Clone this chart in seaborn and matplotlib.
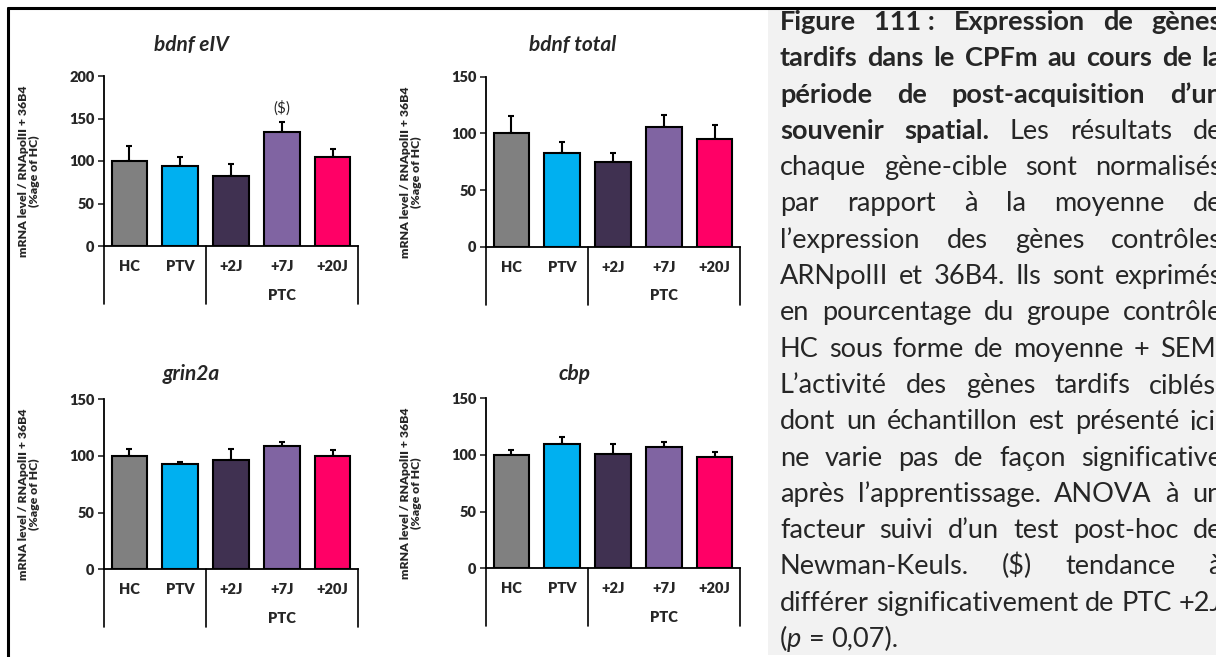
import matplotlib
matplotlib.use("Agg")
import matplotlib.pyplot as plt
import seaborn as sns
import numpy as np
import pandas as pd
from matplotlib.lines import Line2D
from matplotlib.patches import Rectangle

# ---------------- data ----------------
groups = ["HC", "PTV", "+2J", "+7J", "+20J"]
group_colors = ["#808080", "#00B0F0", "#403151", "#8064A2", "#FF0066"]

bdnf_eiv_mean = [100, 94, 82, 134, 105]
bdnf_eiv_sem = [18, 11, 14, 12, 9]
bdnf_total_mean = [100, 83, 75, 106, 95]
bdnf_total_sem = [15, 9, 8, 10, 12.5]
grin2a_mean = [100, 93, 96, 109, 100]
grin2a_sem = [6, 2, 10, 3.5, 5]
cbp_mean = [100, 110, 101, 107, 98]
cbp_sem = [4.5, 5.5, 9, 4, 4.5]

gene_titles = ["bdnf eIV", "bdnf total", "grin2a", "cbp"]
y_max = [200, 150, 150, 150]
y_label = "mRNA level / RNApolII + 36B4\n(%age of HC)"
group_label = "PTC"
trend_mark = "($)"
trend_group = "+7J"

caption_lines = [
    [("Figure 111\u00a0: Expression de gènes", "b")],
    [("tardifs dans le CPFm au cours de la", "b")],
    [("période de post-acquisition d’un", "b")],
    [("souvenir spatial.", "b"), (" Les résultats de", "n")],
    [("chaque gène-cible sont normalisés", "n")],
    [("par rapport à la moyenne de", "n")],
    [("l’expression des gènes contrôles", "n")],
    [("ARNpolII et 36B4. Ils sont exprimés", "n")],
    [("en pourcentage du groupe contrôle", "n")],
    [("HC sous forme de moyenne + SEM.", "n")],
    [("L’activité des gènes tardifs ciblés,", "n")],
    [("dont un échantillon est présenté ici,", "n")],
    [("ne varie pas de façon significative", "n")],
    [("après l’apprentissage. ANOVA à un", "n")],
    [("facteur suivi d’un test post-hoc de", "n")],
    [("Newman-Keuls. ($) tendance à", "n")],
    [("différer significativement de PTC +2J", "n")],
    [("(", "n"), ("p", "i"), (" = 0,07).", "n")],
]

# ---------------- figure ----------------
sns.set_style("white")
plt.rcParams["font.family"] = ["Lato", "DejaVu Sans"]

W, H = 1216, 657
fig = plt.figure(figsize=(W / 100, H / 100), dpi=100)

# outer frame lines and caption box
fig.add_artist(Line2D([8 / W, 1], [1 - 8 / H, 1 - 8 / H], color="black", lw=2.2,
                      transform=fig.transFigure))
fig.add_artist(Line2D([8 / W, 8 / W], [1 - 8 / H, 0], color="black", lw=2.2,
                      transform=fig.transFigure))
fig.add_artist(Rectangle((768 / W, 1 - 655 / H), (W - 768) / W, (655 - 10) / H,
                         facecolor="#F2F2F2", edgecolor="none",
                         transform=fig.transFigure, zorder=0))

# (title, means, sems, ymax, axis origin px, title centre px)
panels = [
    (gene_titles[0], bdnf_eiv_mean, bdnf_eiv_sem, y_max[0], (104, 246), (191, 45)),
    (gene_titles[1], bdnf_total_mean, bdnf_total_sem, y_max[1], (486, 246.7), (573, 45)),
    (gene_titles[2], grin2a_mean, grin2a_sem, y_max[2], (104, 569.3), (191, 374)),
    (gene_titles[3], cbp_mean, cbp_sem, y_max[3], (486, 568.3), (575, 374)),
]
ax_w_px, ax_h_px = 254, 170

for title, means, sems, ymax, (x0, y0), (tx, ty) in panels:
    ax = fig.add_axes([x0 / W, 1 - y0 / H, ax_w_px / W, ax_h_px / H])
    df = pd.DataFrame({"group": groups, "value": means, "sem": sems})
    sns.barplot(data=df, x="group", y="value", hue="group", palette=group_colors,
                legend=False, ax=ax, width=0.7, edgecolor="black", linewidth=1.5,
                errorbar=None, saturation=1)
    ax.errorbar(np.arange(len(groups)), df["value"],
                yerr=[np.zeros(len(groups)), df["sem"]], fmt="none",
                ecolor="black", elinewidth=1.5, capsize=2.3, capthick=1.5, zorder=1)
    for p in ax.patches:
        p.set_zorder(2)
    ax.set_xlim(-0.5, len(groups) - 0.5)
    ax.set_ylim(0, ymax)
    ax.set_yticks(np.arange(0, ymax + 1, 50))
    for s in ["top", "right"]:
        ax.spines[s].set_visible(False)
    for s in ["left", "bottom"]:
        ax.spines[s].set_linewidth(1.3)
        ax.spines[s].set_color("black")
    ax.tick_params(axis="y", direction="out", length=4, width=1.2, pad=3,
                   labelsize=10.5, left=True)
    ax.tick_params(axis="x", length=0, pad=10, labelsize=10.5)
    for lab in ax.get_yticklabels() + ax.get_xticklabels():
        lab.set_fontweight("heavy")
    ax.set_xlabel("")
    ax.set_ylabel(y_label, fontsize=8.8, fontweight="heavy", linespacing=1.1)
    ax.yaxis.set_label_coords(-0.25, 0.44)
    ax.text((tx - x0) / ax_w_px, (y0 - ty) / ax_h_px, title, transform=ax.transAxes,
            ha="center", va="center", fontsize=15, fontweight="bold", style="italic")
    # grouping separators below the axis
    trans = ax.get_xaxis_transform()
    for xb in [-0.5, 1.5, len(groups) - 0.5]:
        ax.plot([xb, xb], [0, -58 / ax_h_px], color="black", lw=1.2,
                transform=trans, clip_on=False)
    ax.text(3, -49 / ax_h_px, group_label, transform=trans, ha="center",
            va="center", fontsize=10.5, fontweight="heavy")
    if title == gene_titles[0]:
        i = groups.index(trend_group)
        ax.annotate(trend_mark, (i, means[i] + sems[i]), xytext=(0, 10),
                    textcoords="offset points", ha="center", va="center",
                    fontsize=11)

# ---------------- caption (justified) ----------------
renderer = fig.canvas.get_renderer()
style_kw = {"b": dict(fontweight="bold"), "n": dict(), "i": dict(style="italic")}


def text_width(s, style, fs):
    t = fig.text(0, 0, s, fontsize=fs, **style_kw[style])
    w = t.get_window_extent(renderer).width
    t.remove()
    return w


def words_of(runs):
    words = []
    new_word = True
    for text, style in runs:
        parts = text.split(" ")
        for k, p in enumerate(parts):
            if k > 0:
                new_word = True
            if p == "":
                continue
            if new_word or not words:
                words.append([(p, style)])
            else:
                words[-1].append((p, style))
            new_word = False
    return words


left_px, right_px = 780, 1222
line_w = right_px - left_px
fs0 = 10.0
space0 = text_width("a a", "n", fs0) - text_width("aa", "n", fs0)
fit = []
for runs in caption_lines[:-1]:
    ws = words_of(runs)
    nat = sum(sum(text_width(s, st, fs0) for s, st in w) for w in ws) + space0 * (len(ws) - 1)
    fit.append(fs0 * line_w / nat)
fs = min(fit)
space = text_width("a a", "n", fs) - text_width("aa", "n", fs)

for li, runs in enumerate(caption_lines):
    ws = words_of(runs)
    widths = [[text_width(s, st, fs) for s, st in w] for w in ws]
    tot = sum(sum(w) for w in widths)
    last = li == len(caption_lines) - 1
    gap = space if last or len(ws) < 2 else (line_w - tot) / (len(ws) - 1)
    base = 30 + 36.3 * li
    x = left_px
    for w, wd in zip(ws, widths):
        xx = x
        for (s, st), sw in zip(w, wd):
            fig.text(xx / W, 1 - base / H, s, fontsize=fs, va="baseline", ha="left",
                     **style_kw[st])
            xx += sw
        x = xx + gap

fig.savefig("out.png", dpi=100)
